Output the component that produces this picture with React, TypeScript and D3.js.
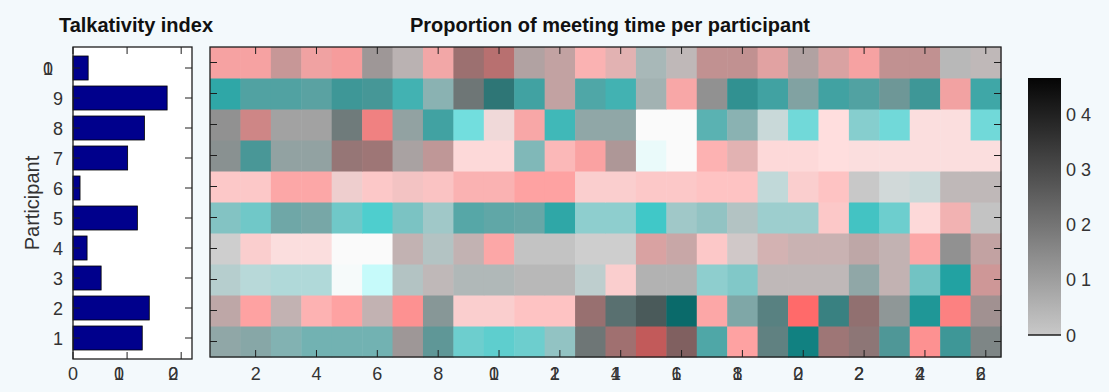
import React from 'react';
import * as d3 from 'd3';

const W = 1109;
const H = 392;

// Participants (rows, bottom to top) and meeting segments (columns)
const participants = [1, 2, 3, 4, 5, 6, 7, 8, 9, 10];
const segments = d3.range(1, 27);

// Talkativity index per participant 1..10
const talkativity = [0.128, 0.141, 0.052, 0.026, 0.119, 0.013, 0.101, 0.132, 0.174, 0.028];

// Proportion of meeting time (in %) per participant (row) and segment (column)
const shareP1 = [16, 16, 14, 14, 14, 14, 19, 19, 9, 9, 9, 11, 25, 26, 30, 29, 16, 17, 23, 23, 25, 25, 19, 20, 19, 22];
const shareP2 = [16, 17, 14, 14, 17, 14, 20, 19, 9, 9, 11, 11, 26, 26, 30, 27, 16, 16, 23, 27, 23, 26, 19, 19, 23, 20];
const shareP3 = [9, 7, 7, 7, 1, 1, 11, 13, 13, 13, 13, 13, 9, 9, 14, 14, 9, 10, 13, 13, 13, 16, 14, 11, 17, 19];
const shareP4 = [9, 9, 6, 6, 1, 1, 14, 11, 14, 16, 11, 11, 9, 9, 17, 16, 10, 10, 14, 14, 14, 16, 14, 16, 20, 17];
const shareP5 = [11, 10, 16, 16, 10, 9, 11, 10, 16, 16, 16, 16, 9, 9, 10, 10, 11, 11, 9, 9, 10, 11, 9, 7, 14, 11];
const shareP6 = [10, 10, 16, 16, 9, 10, 11, 11, 14, 14, 17, 17, 9, 9, 10, 10, 11, 11, 7, 9, 11, 10, 7, 7, 13, 13];
const shareP7 = [20, 19, 17, 17, 25, 25, 17, 19, 7, 7, 13, 13, 17, 19, 1, 1, 14, 14, 7, 7, 6, 6, 6, 6, 6, 6];
const shareP8 = [20, 22, 17, 17, 24, 23, 17, 17, 6, 7, 16, 13, 16, 16, 1, 1, 14, 14, 7, 7, 6, 9, 7, 6, 6, 7];
const shareP9 = [16, 17, 17, 17, 19, 19, 14, 14, 25, 25, 17, 17, 16, 14, 14, 16, 20, 20, 17, 17, 17, 17, 19, 19, 17, 16];
const shareP10 = [17, 17, 19, 17, 18, 19, 14, 16, 26, 26, 17, 17, 14, 14, 13, 13, 20, 20, 17, 17, 17, 17, 20, 20, 13, 13];

// Speaking balance per cell (-100 listening .. +100 speaking)
const biasP1 = [-18, -25, -37, -49, -49, -49, 6, -43, -74, -86, -74, -37, -6, 37, 80, 25, -68, 71, -25, -86, 31, 18, -55, 83, -68, -6];
const biasP2 = [18, 71, 12, 58, 71, 12, 83, -12, 34, 34, 46, 46, 31, -18, -12, -74, 65, -31, -31, 114, -55, 25, -6, -92, 95, 12];
const biasP3 = [-18, -25, -31, -31, -3, -40, -12, 6, -6, -6, 0, 0, -12, 34, 0, 0, -49, -55, 6, 6, 6, -18, 12, -62, -98, 43];
const biasP4 = [0, 34, 22, 22, 0, 0, 12, -12, 12, 65, 0, 0, 0, 0, 43, 25, 40, 6, 25, 18, 18, 18, 12, 65, 0, 25];
const biasP5 = [-49, -68, -43, -37, -68, -98, -55, -31, -62, -55, -49, -92, -49, -49, -105, -31, -37, -12, -37, -37, 40, -98, -74, 28, 49, 0];
const biasP6 = [40, 40, 65, 65, 25, 40, 37, 43, 55, 55, 71, 71, 34, 34, 40, 40, 46, 46, -18, 34, 46, 0, -6, -12, 6, 6];
const biasP7 = [-6, -60, -12, -12, 25, 31, 6, 31, 28, 28, -43, 52, 68, 18, -12, 0, 58, 37, 28, 28, 25, 22, 22, 22, 22, 22];
const biasP8 = [0, 55, 0, 0, -9, 86, -12, -74, -83, 18, 62, -92, -18, -18, 0, 0, -68, -31, -12, -80, 25, -55, -80, 22, 22, -80];
const biasP9 = [-92, -62, -62, -55, -68, -62, -86, -31, -6, -55, -74, 25, -68, -86, -12, 62, 0, -74, -74, -25, -74, -62, -31, -68, 62, -80];
const biasP10 = [65, 65, 37, 60, 69, 6, 6, 58, 34, 55, 12, 25, 55, 37, -12, 6, 37, 37, 49, 12, 43, 65, 37, 37, 0, 6];

const shareRows = [shareP1, shareP2, shareP3, shareP4, shareP5, shareP6, shareP7, shareP8, shareP9, shareP10];
const biasRows = [biasP1, biasP2, biasP3, biasP4, biasP5, biasP6, biasP7, biasP8, biasP9, biasP10];

const barTicks = [0, 0.1, 0.2];
const segTicks = [2, 4, 6, 8, 10, 12, 14, 16, 18, 20, 22, 24, 26];
const colorbarTicks = [0, 0.1, 0.2, 0.3, 0.4];
const colorbarLabels = ['0', '0 1', '0 2', '0 3', '0 4'];

const titleBar = 'Talkativity index';
const titleHeat = 'Proportion of meeting time per participant';
const yLabel = 'Participant';

const FONT = '"Liberation Sans", Arial, Helvetica, sans-serif';
const TXT = '#333';
const AX = '#1e1e1e';

export default function App() {
  const bx = d3.scaleLinear().domain([0, 0.22]).range([73, 192]);
  const by = d3.scaleLinear().domain([0.3, 10.7]).range([359, 47]);
  const hx = d3.scaleLinear().domain([0.5, 26.5]).range([210, 1001]);
  const hy = d3.scaleLinear().domain([0.5, 10.5]).range([357, 47]);
  const grey = d3.scaleLinear().domain([0, 46]).range([255, 2]);
  const tint = d3.scaleLinear().domain([-100, 100]).range([-130, 130]);
  const cbY = d3.scaleLinear().domain([0, 0.467]).range([335, 78]);
  const cbColor = d3.scaleLinear<string>().domain([0, 0.467]).range(['#c8c8c8', '#050505']);

  const cellColor = (s: number, b: number) => {
    const g = grey(s);
    const r = Math.max(0, Math.min(255, g + tint(b)));
    return d3.rgb(r, g, g).formatHex();
  };

  const overlapped = (label: string, x: number, y: number, key: string) =>
    label
      .replace('.', '')
      .split('')
      .map((ch, i) => (
        <text key={key + i} x={x} y={y} textAnchor="middle" fontSize={18} fill={TXT} fontFamily={FONT}>
          {ch}
        </text>
      ));

  const tickLen = 7;
  const gradStops = d3.range(0, 1.0001, 0.1);

  return (
    <svg width={W} height={H} style={{ position: 'absolute', left: 0, top: 0 }} fontFamily={FONT}>
      <defs>
        <linearGradient id="cbgrad" x1="0" y1="1" x2="0" y2="0">
          {gradStops.map((t) => (
            <stop key={t} offset={t} stopColor={cbColor(t * 0.467)} />
          ))}
        </linearGradient>
      </defs>
      <rect x={0} y={0} width={W} height={H} fill="#f3f9fc" />

      {/* Titles */}
      <text x={136} y={32} textAnchor="middle" fontSize={20} fontWeight="bold" fill="#111">
        {titleBar}
      </text>
      <text x={610} y={32} textAnchor="middle" fontSize={20} fontWeight="bold" fill="#111">
        {titleHeat}
      </text>

      {/* Bar chart */}
      <rect x={bx(0)} y={by(10.7)} width={bx(0.22) - bx(0)} height={by(0.3) - by(10.7)} fill="#fff" />
      {participants.map((p, i) => (
        <rect
          key={'bar' + p}
          x={bx(0)}
          y={by(p + 0.4)}
          width={bx(talkativity[i]) - bx(0)}
          height={by(p - 0.4) - by(p + 0.4)}
          fill="#00008c"
          stroke="#000"
          strokeWidth={0.8}
        />
      ))}
      {participants.map((p) => (
        <g key={'byt' + p}>
          <line x1={bx(0)} x2={bx(0) + tickLen} y1={by(p)} y2={by(p)} stroke={AX} />
          <line x1={bx(0.22)} x2={bx(0.22) - tickLen} y1={by(p)} y2={by(p)} stroke={AX} />
        </g>
      ))}
      {barTicks.map((t) => (
        <g key={'bxt' + t}>
          <line x1={bx(t)} x2={bx(t)} y1={by(0.3)} y2={by(0.3) - tickLen} stroke={AX} />
          <line x1={bx(t)} x2={bx(t)} y1={by(10.7)} y2={by(10.7) + tickLen} stroke={AX} />
        </g>
      ))}
      <rect
        x={bx(0)}
        y={by(10.7)}
        width={bx(0.22) - bx(0)}
        height={by(0.3) - by(10.7)}
        fill="none"
        stroke={AX}
        strokeWidth={1.3}
      />
      {participants.map((p) =>
        p < 10 ? (
          <text key={'byl' + p} x={63} y={by(p) + 6.5} textAnchor="end" fontSize={18} fill={TXT}>
            {String(p)}
          </text>
        ) : (
          <g key={'byl' + p}>{overlapped(String(p), 48, by(p) + 6.5, 'bylo')}</g>
        )
      )}
      {barTicks.map((t) =>
        t === 0 ? (
          <text key={'bxl' + t} x={bx(t)} y={380} textAnchor="middle" fontSize={18} fill={TXT}>
            0
          </text>
        ) : (
          <g key={'bxl' + t}>{overlapped(String(t), bx(t) - 8, 380, 'bxlo' + t)}</g>
        )
      )}
      <text
        transform={`translate(39, ${(by(0.3) + by(10.7)) / 2}) rotate(-90)`}
        textAnchor="middle"
        fontSize={20}
        fill={TXT}
      >
        {yLabel}
      </text>

      {/* Heatmap */}
      {participants.map((p, ri) =>
        segments.map((s, ci) => (
          <rect
            key={`c${p}-${s}`}
            x={hx(s - 0.5)}
            y={hy(p + 0.5)}
            width={hx(s + 0.5) - hx(s - 0.5) + 0.5}
            height={hy(p - 0.5) - hy(p + 0.5) + 0.5}
            fill={cellColor(shareRows[ri][ci], biasRows[ri][ci])}
          />
        ))
      )}
      {participants.map((p) => (
        <g key={'hyt' + p}>
          <line x1={hx(0.5)} x2={hx(0.5) + tickLen} y1={hy(p)} y2={hy(p)} stroke={AX} />
          <line x1={hx(26.5)} x2={hx(26.5) - tickLen} y1={hy(p)} y2={hy(p)} stroke={AX} />
        </g>
      ))}
      {segTicks.map((t) => (
        <g key={'hxt' + t}>
          <line x1={hx(t)} x2={hx(t)} y1={hy(0.5)} y2={hy(0.5) - tickLen} stroke={AX} />
          <line x1={hx(t)} x2={hx(t)} y1={hy(10.5)} y2={hy(10.5) + tickLen} stroke={AX} />
        </g>
      ))}
      <rect
        x={hx(0.5)}
        y={hy(10.5)}
        width={hx(26.5) - hx(0.5)}
        height={hy(0.5) - hy(10.5)}
        fill="none"
        stroke={AX}
        strokeWidth={1.3}
      />
      {segTicks.map((t) =>
        t < 10 ? (
          <text key={'hxl' + t} x={hx(t)} y={380} textAnchor="middle" fontSize={18} fill={TXT}>
            {String(t)}
          </text>
        ) : (
          <g key={'hxl' + t}>{overlapped(String(t), hx(t) - 5, 380, 'hxlo' + t)}</g>
        )
      )}

      {/* Colorbar */}
      <rect x={1028} y={cbY(0.467)} width={33} height={cbY(0) - cbY(0.467)} fill="url(#cbgrad)" />
      <line x1={1028} x2={1061} y1={cbY(0)} y2={cbY(0)} stroke={AX} strokeWidth={1.5} />
      {colorbarTicks.map((t, i) => (
        <text key={'cbl' + t} x={1066} y={cbY(t) + 6.5} fontSize={18} fill={TXT}>
          {colorbarLabels[i]}
        </text>
      ))}
    </svg>
  );
}
